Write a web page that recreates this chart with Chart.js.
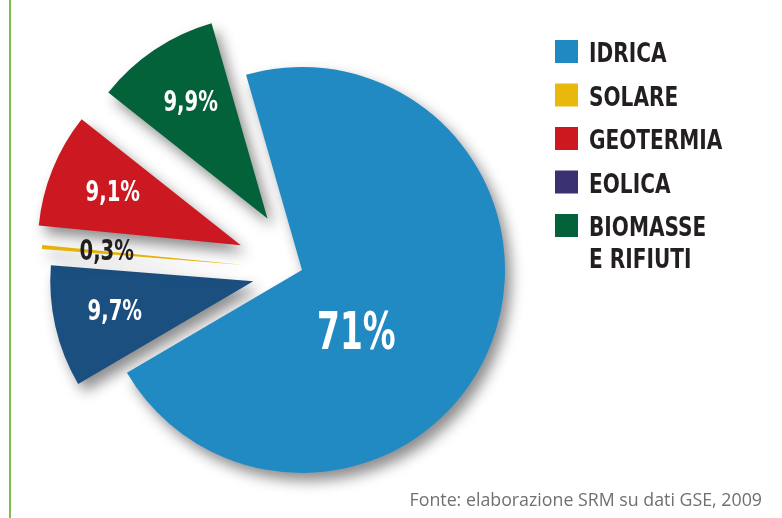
<!DOCTYPE html>
<html lang="it">
<head>
<meta charset="utf-8">
<title>Produzione da fonti rinnovabili</title>
<script src="https://cdn.jsdelivr.net/npm/chart.js@4.4.1/dist/chart.umd.min.js"></script>
<style>
  html, body { margin: 0; background: #fff; }
  #wrap { position: relative; width: 782px; height: 518px; }
  #rule { position: absolute; left: 9px; top: 0; bottom: 0; width: 2px; background: #7dbf4c; }
  #fonte { position: absolute; right: 20px; bottom: 7px; font: 17.8px "Open Sans", sans-serif; color: #707070; }
</style>
</head>
<body>
<div id="wrap">
  <div id="rule"></div>
  <canvas id="pieChart"></canvas>
  <div id="fonte">Fonte: elaborazione SRM su dati GSE, 2009</div>
</div>
<script>
// slices, clockwise from the top
const labels = ["IDRICA", "EOLICA", "SOLARE", "GEOTERMIA", "BIOMASSE\nE RIFIUTI"];
const shares = [71, 9.7, 0.3, 9.1, 9.9];
const sliceColors = ["#228ac3", "#1b4f7f", "#e7b40c", "#cc1820", "#04623a"];
// legend lists the sources in a different order, with its own swatches
const legendOrder = [0, 2, 3, 1, 4];
const legendColors = ["#2189c2", "#3a3172", "#e8b80a", "#cd1820", "#03623a"];

const explode = [0, 50, 58, 66, 62];
const labelDist = [0.42, 0.7, 0.68, 0.68, 0.68];
const labelTurn = [0.5, 0, 0, 0, 0]; // radians, nudges the big label down
const condensed = '"DejaVu Sans Condensed", sans-serif';

// narrow text: squeeze the condensed face a bit more
function narrowText(ctx, text, x, y, squeeze) {
  ctx.save();
  ctx.translate(x, y);
  ctx.scale(squeeze, 1);
  ctx.fillText(text, 0, 0);
  ctx.restore();
}

// draw the arcs ourselves so every slice but the big one is pulled out
const explodePlugin = {
  id: "explode",
  beforeDatasetDraw(chart, args) {
    const ctx = chart.ctx;
    const arcs = args.meta.data;
    [1, 2, 3, 4, 0].forEach((i) => {
      const arc = arcs[i];
      const mid = (arc.startAngle + arc.endAngle) / 2;
      ctx.save();
      ctx.shadowColor = "rgba(0, 0, 0, 0.45)";
      ctx.shadowBlur = 14;
      ctx.shadowOffsetX = 6;
      ctx.shadowOffsetY = 8;
      ctx.translate(Math.cos(mid) * explode[i], Math.sin(mid) * explode[i]);
      arc.draw(ctx);
      ctx.restore();
    });
    return false;
  },
};

const valuePlugin = {
  id: "values",
  afterDatasetsDraw(chart) {
    const ctx = chart.ctx;
    const arcs = chart.getDatasetMeta(0).data;
    ctx.save();
    ctx.textAlign = "center";
    ctx.textBaseline = "middle";
    arcs.forEach((arc, i) => {
      const mid = (arc.startAngle + arc.endAngle) / 2;
      const a = mid + labelTurn[i];
      const d = arc.outerRadius * labelDist[i];
      const x = arc.x + Math.cos(mid) * explode[i] + Math.cos(a) * d;
      const y = arc.y + Math.sin(mid) * explode[i] + Math.sin(a) * d;
      ctx.font = (i === 0 ? "bold 52px " : "bold 28px ") + condensed;
      ctx.fillStyle = shares[i] < 1 ? "#231f20" : "#ffffff";
      narrowText(ctx, shares[i].toLocaleString("it-IT") + "%", x, y, i === 0 ? 0.7 : 0.78);
    });
    ctx.restore();
  },
};

const legendPlugin = {
  id: "sideLegend",
  afterDraw(chart) {
    const ctx = chart.ctx;
    ctx.save();
    ctx.font = "bold 26px " + condensed;
    ctx.textBaseline = "alphabetic";
    ctx.textAlign = "left";
    legendOrder.forEach((k, row) => {
      const top = 40 + row * 43.5;
      ctx.fillStyle = legendColors[k];
      ctx.fillRect(555, top, 23, 23);
      ctx.fillStyle = "#231f20";
      labels[k].split("\n").forEach((line, j) => {
        narrowText(ctx, line, 589, top + 22 + j * 32, 0.86);
      });
    });
    ctx.restore();
  },
};

new Chart(document.querySelector("#pieChart"), {
  type: "pie",
  data: {
    labels: labels,
    datasets: [
      {
        data: shares,
        backgroundColor: sliceColors,
        borderWidth: 0,
      },
    ],
  },
  options: {
    responsive: true,
    maintainAspectRatio: false,
    animation: false,
    events: [],
    rotation: -16,
    radius: 203,
    layout: { padding: { left: 0, right: 178, top: 22, bottom: 0 } },
    plugins: {
      legend: { display: false },
      tooltip: { enabled: false },
    },
  },
  plugins: [explodePlugin, valuePlugin, legendPlugin],
});
</script>
</body>
</html>
